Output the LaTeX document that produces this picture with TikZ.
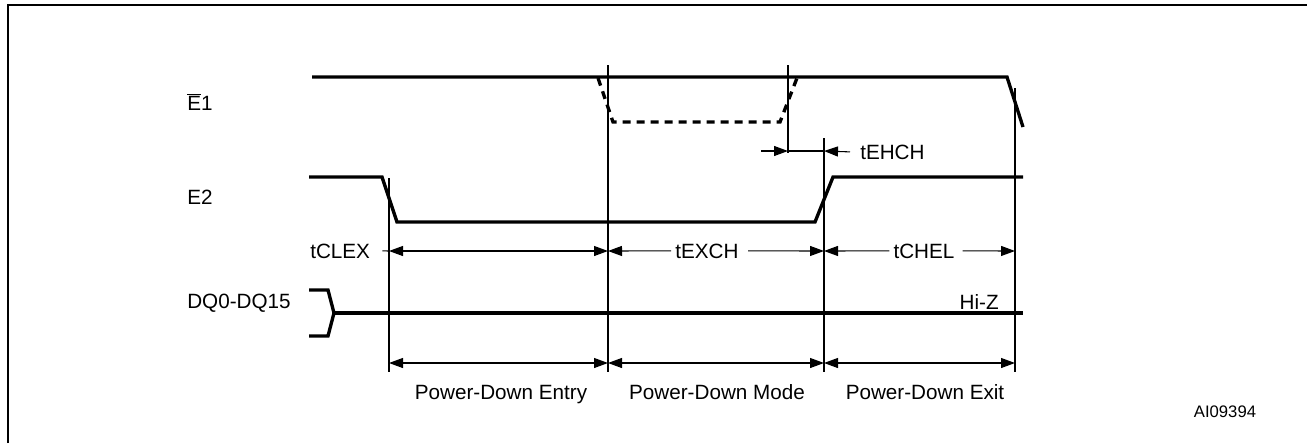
\documentclass[tikz,border=0pt]{standalone}
\usepackage{fontspec}
\setmainfont{Liberation Sans}
\usetikzlibrary{arrows.meta}
\begin{document}
\begin{tikzpicture}[x=0.75pt, y=-0.75pt, >={Triangle[length=10.5pt,width=7.5pt]},
  font=\fontsize{15.5}{18}\selectfont,
  sig/.style={line width=2.5pt},
  guide/.style={line width=0.8pt},
  lbl/.style={inner sep=0pt},
  dimlbl/.style={inner ysep=0pt, inner xsep=3pt, anchor=base}]
\useasboundingbox (0,0) rectangle (1307,443);
\draw[line width=2pt] (8,443) -- (8,5) -- (1307,5);
\node[lbl, anchor=base west] (e1) at (187,110) {$\overline{\mbox{E}}$1};
\node[lbl, anchor=base west] (e2) at (187,204) {E2};
\node[lbl, anchor=base west] (dq) at (187,308) {DQ0-DQ15};
\draw[sig] (312,77) -- (1007,77) -- (1023,127);
\draw[sig, dash pattern=on 6pt off 4.5pt] (598,78) -- (613,122) -- (780,122) -- (797,78);
\draw[sig] (309,177) -- (382,177) -- (397,222) -- (815,222) -- (833,177) -- (1023,177);
\draw[sig] (309,290) -- (328,290) -- (334,313) -- (328,336) -- (309,336);
\draw[sig] (334,313) -- (1023,313);
\node[lbl, anchor=base east] (hiz) at (999,309) {Hi-Z};
\foreach \n/\x/\ya/\yb in {ta/389/178/372, tb/608/65/372, tc/788/65/153, td/824/138/372, te/1015/88/372} {
    \draw[guide] (\x,\ya) -- (\x,\yb);
    \coordinate (\n-h) at (\x,151);
    \coordinate (\n-t) at (\x,251);
    \coordinate (\n-b) at (\x,363);
}
\node[lbl, anchor=base west] (tehch) at (860,159) {tEHCH};
\coordinate (ehch) at (761,151);
\draw[guide, ->] (ehch) -- (tc-h);
\draw[guide] (tc-h) -- (td-h);
\draw[guide, ->] ([xshift=-7.5pt]tehch.west) -- (td-h);
\node[lbl, anchor=base west] (tclex) at (310,258) {tCLEX};
\node[dimlbl] (texch) at (707,258) {tEXCH};
\node[dimlbl] (tchel) at (924,258) {tCHEL};
\draw[guide] ([xshift=9pt]tclex.east) -- (ta-t);
\draw[guide, <->] (ta-t) -- (tb-t);
\draw[guide, <-] (tb-t) -- (texch.west);
\draw[guide, ->] ([xshift=4pt]texch.east) -- (td-t);
\draw[guide, <-] (td-t) -- (tchel.west);
\draw[guide, ->] ([xshift=3pt]tchel.east) -- (te-t);
\foreach \a/\b/\txt/\x in {ta/tb/Power-Down Entry/501, tb/td/Power-Down Mode/717, td/te/Power-Down Exit/925} {
    \draw[guide, <->] (\a-b) -- (\b-b);
    \node[lbl, anchor=base] at (\x,399) {\txt};
}
\node[lbl, anchor=base, font=\fontsize{12.5}{15}\selectfont] (fig) at (1225,417) {AI09394};
\end{tikzpicture}
\end{document}
